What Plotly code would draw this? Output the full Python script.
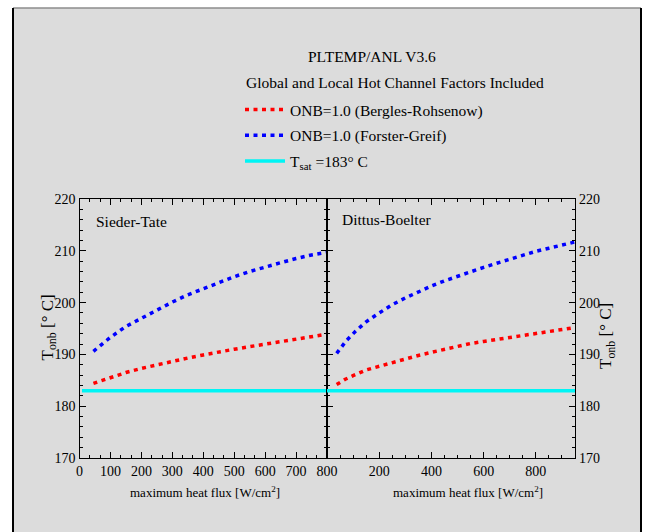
import plotly.graph_objects as go

# ---- data ----
st_x_br = [45, 100, 150, 200, 250, 300, 350, 400, 450, 500, 550, 600, 650, 700, 750, 800]
st_y_br = [184.4, 185.5, 186.5, 187.3, 188.0, 188.7, 189.3, 189.9, 190.5, 191.0, 191.5, 192.0, 192.5, 193.0, 193.4, 193.9]
st_x_fg = [45, 100, 150, 200, 250, 300, 350, 400, 450, 500, 550, 600, 650, 700, 750, 800]
st_y_fg = [190.6, 193.3, 195.4, 197.0, 198.6, 200.1, 201.5, 202.7, 203.9, 205.0, 206.0, 206.9, 207.7, 208.5, 209.2, 209.7]

db_x_br = [37, 70, 100, 150, 200, 250, 300, 350, 400, 450, 500, 550, 600, 650, 700, 750, 800, 850, 900, 940]
db_y_br = [184.2, 185.2, 185.9, 187.0, 187.7, 188.4, 189.2, 189.8, 190.4, 191.0, 191.5, 192.1, 192.5, 192.9, 193.3, 193.7, 194.1, 194.5, 194.8, 195.1]
db_x_fg = [37, 75, 110, 150, 200, 250, 300, 350, 400, 450, 500, 550, 600, 650, 700, 750, 800, 850, 900, 950]
db_y_fg = [190.2, 192.7, 194.5, 196.3, 198.0, 199.6, 200.9, 202.1, 203.2, 204.2, 205.1, 206.0, 206.8, 207.6, 208.4, 209.1, 209.9, 210.5, 211.1, 211.7]

tsat_left_x = [8, 800]
tsat_right_x = [0, 950]
tsat_value = 183

left_xticks = [0, 100, 200, 300, 400, 500, 600, 700, 800]
right_xticks = [200, 400, 600, 800]
yticks = [170, 180, 190, 200, 210, 220]

names = ["ONB=1.0 (Bergles-Rohsenow)", "ONB=1.0 (Forster-Greif)", "T<sub>sat</sub> =183° C"]
panel_labels = ["Sieder-Tate", "Dittus-Boelter"]
title_lines = ["PLTEMP/ANL V3.6", "Global and Local Hot Channel Factors Included"]
xtitle = "maximum heat flux [W/cm<sup>2</sup>]"
ytitle = "T<sub>onb</sub> [° C]"

FONT = "Liberation Serif"
W, H = 645, 532
RED, BLUE, CYAN = "#ff0000", "#0000ff", "#00f5f5"
DOT = "4px,4.5px"

fig = go.Figure()

fig.add_trace(go.Scatter(x=st_x_br, y=st_y_br, mode="lines", name=names[0], legendgroup="a",
                         line=dict(color=RED, width=3.5, dash=DOT), xaxis="x", yaxis="y"))
fig.add_trace(go.Scatter(x=st_x_fg, y=st_y_fg, mode="lines", name=names[1], legendgroup="b",
                         line=dict(color=BLUE, width=3.5, dash=DOT), xaxis="x", yaxis="y"))
fig.add_trace(go.Scatter(x=tsat_left_x, y=[tsat_value] * len(tsat_left_x), mode="lines", name=names[2],
                         legendgroup="c", line=dict(color=CYAN, width=3.5), xaxis="x", yaxis="y"))
fig.add_trace(go.Scatter(x=db_x_br, y=db_y_br, mode="lines", name=names[0], showlegend=False, legendgroup="a",
                         line=dict(color=RED, width=3.5, dash=DOT), xaxis="x2", yaxis="y2"))
fig.add_trace(go.Scatter(x=db_x_fg, y=db_y_fg, mode="lines", name=names[1], showlegend=False, legendgroup="b",
                         line=dict(color=BLUE, width=3.5, dash=DOT), xaxis="x2", yaxis="y2"))
fig.add_trace(go.Scatter(x=tsat_right_x, y=[tsat_value] * len(tsat_right_x), mode="lines", name=names[2],
                         showlegend=False, legendgroup="c", line=dict(color=CYAN, width=3.5),
                         xaxis="x2", yaxis="y2"))

px = lambda v: v / W
py = lambda v: 1 - v / H

axis_common = dict(showline=True, linecolor="black", linewidth=1.2, mirror="ticks", ticks="inside",
                   ticklen=6, tickwidth=1.2, tickcolor="black", showgrid=False, zeroline=False,
                   automargin=False, tickfont=dict(family=FONT, size=14, color="black"))

fig.update_layout(
    width=W, height=H, autosize=False, margin=dict(l=0, r=0, t=0, b=0, pad=0),
    paper_bgcolor="white", plot_bgcolor="rgba(0,0,0,0)",
    font=dict(family=FONT, size=15.5, color="black"),
    xaxis=dict(domain=[px(79.5), px(327)], range=[0, 800], anchor="y", tickvals=left_xticks,
               minor=dict(dtick=100 / 3, ticks="inside", ticklen=3, tickcolor="black"), **axis_common),
    yaxis=dict(domain=[py(458), py(199)], range=[170, 220], anchor="x", tickvals=yticks,
               minor=dict(dtick=2, ticks="inside", ticklen=3, tickcolor="black"), **axis_common),
    xaxis2=dict(domain=[px(327), px(575)], range=[0, 950], anchor="y2", tickvals=right_xticks,
                minor=dict(dtick=50, ticks="inside", ticklen=3, tickcolor="black"), **axis_common),
    yaxis2=dict(domain=[py(458), py(199)], range=[170, 220], anchor="x2", side="right", tickvals=yticks,
                minor=dict(dtick=2, ticks="inside", ticklen=3, tickcolor="black"), **axis_common),
    legend=dict(x=px(240), y=py(93), xanchor="left", yanchor="top", bgcolor="rgba(0,0,0,0)",
                font=dict(family=FONT, size=15.5, color="black"), tracegroupgap=2.5, itemwidth=40),
    showlegend=True,
)

# background panel
fig.add_shape(type="rect", xref="paper", yref="paper", x0=px(13), x1=px(641), y0=-0.02, y1=py(8),
              fillcolor="#dcdcdc", line=dict(width=0), layer="below")
fig.add_shape(type="line", xref="paper", yref="paper", x0=px(13), x1=px(641), y0=py(8), y1=py(8),
              line=dict(color="#8c8c8c", width=1.5), layer="below")
fig.add_shape(type="line", xref="paper", yref="paper", x0=px(13), x1=px(13), y0=-0.02, y1=py(8),
              line=dict(color="black", width=2), layer="below")
fig.add_shape(type="line", xref="paper", yref="paper", x0=px(641), x1=px(641), y0=-0.02, y1=py(8),
              line=dict(color="black", width=2), layer="below")

C = dict(xanchor="center", yanchor="middle", showarrow=False)
ann = []
ann.append(dict(text=title_lines[0], x=px(372), y=py(56), xref="paper", yref="paper",
                font=dict(size=15.5), **C))
ann.append(dict(text=title_lines[1], x=px(394.5), y=py(83), xref="paper", yref="paper",
                font=dict(size=15.5), **C))
ann.append(dict(text=panel_labels[0], x=0.058, y=0.912, xref="x domain", yref="y domain", xanchor="left",
                yanchor="middle", showarrow=False, font=dict(size=15.5)))
ann.append(dict(text=panel_labels[1], x=0.052, y=0.921, xref="x2 domain", yref="y2 domain", xanchor="left",
                yanchor="middle", showarrow=False, font=dict(size=15.5)))
ann.append(dict(text=xtitle, x=px(205), y=py(492), xref="paper", yref="paper", font=dict(size=13), **C))
ann.append(dict(text=xtitle, x=px(468), y=py(492), xref="paper", yref="paper", font=dict(size=13), **C))
ann.append(dict(text=ytitle, x=px(48), y=py(327.5), xref="paper", yref="paper", textangle=-90,
                font=dict(size=17), **C))
ann.append(dict(text=ytitle, x=px(607), y=py(336), xref="paper", yref="paper", textangle=-90,
                font=dict(size=17), **C))
fig.update_layout(annotations=ann)

fig.write_html("out.html")
